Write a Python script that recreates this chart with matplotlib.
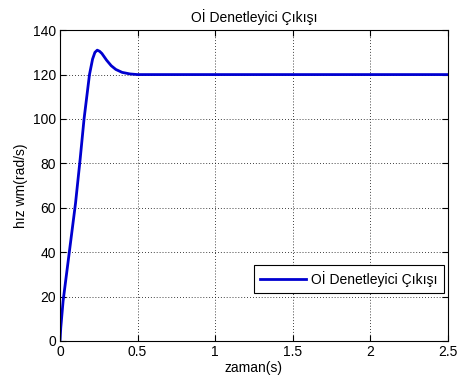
import numpy as np
import matplotlib.pyplot as plt

plt.rcParams['font.family'] = ['Liberation Sans', 'DejaVu Sans']

# speed response
t = [0, 0.005, 0.02, 0.06, 0.1, 0.13, 0.155, 0.19, 0.21, 0.225, 0.24, 0.255,
     0.27, 0.3, 0.33, 0.36, 0.4, 0.45, 0.5, 0.6, 1.0, 1.5, 2.0, 2.5]
w = [0, 6, 18, 40, 62, 82, 100, 120, 127, 130, 131, 130.5,
     129.5, 126.5, 124, 122.3, 121, 120.3, 120, 120, 120, 120, 120, 120]

title_txt = 'Oİ Denetleyici Çıkışı'
xticks = [0, 0.5, 1, 1.5, 2, 2.5]
yticks = [0, 20, 40, 60, 80, 100, 120, 140]

fig = plt.figure(figsize=(4.58, 3.87), dpi=100)
ax = fig.add_axes([0.131, 0.119, 0.847, 0.803])

ax.plot(t, w, color='#0000d0', linewidth=2, label=title_txt)

ax.set_xlim(0, 2.5)
ax.set_ylim(0, 140)
ax.set_xticks(xticks)
ax.set_xticklabels(['0', '0.5', '1', '1.5', '2', '2.5'])
ax.set_yticks(yticks)
ax.tick_params(direction='in', top=True, right=True, labelsize=10, length=4, pad=3)
ax.grid(True, color='black', linestyle=(0, (1, 2.5)), linewidth=0.6)

ax.set_title(title_txt, fontsize=10, pad=6)
ax.set_xlabel('zaman(s)', fontsize=10, labelpad=1)
ax.set_ylabel('hız wm(rad/s)', fontsize=10, labelpad=3)

leg = ax.legend(loc='lower right', bbox_to_anchor=(0.99, 0.154), borderaxespad=0,
                fontsize=10, fancybox=False, framealpha=1, edgecolor='black',
                handlelength=3.3, handletextpad=0.4, borderpad=0.45)
leg.get_frame().set_linewidth(0.8)

fig.savefig('out.png', dpi=100)
